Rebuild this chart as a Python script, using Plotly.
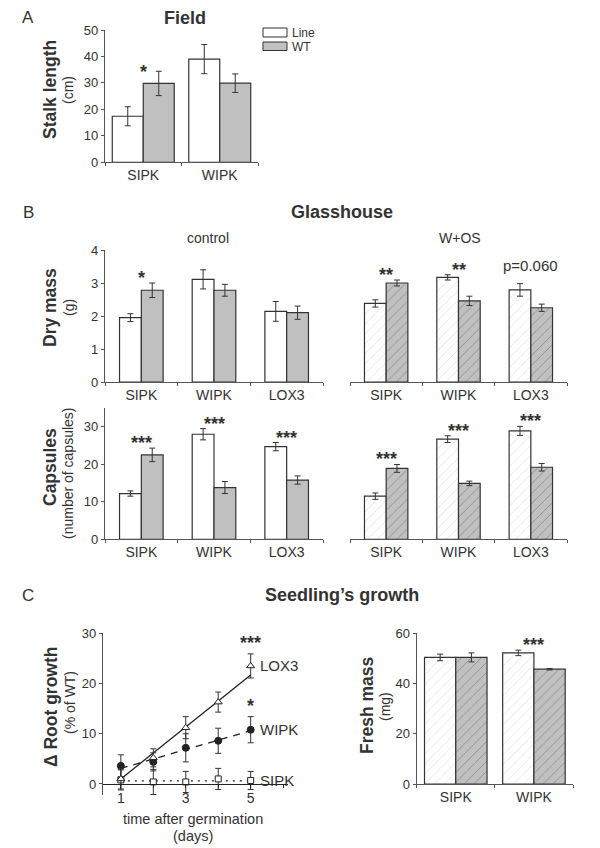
import plotly.graph_objects as go

# ---------------- data ----------------
field_genes = ["SIPK", "WIPK"]
field_line = [17.4, 39.0]
field_line_err = [3.6, 5.5]
field_wt = [29.8, 29.9]
field_wt_err = [4.6, 3.5]
field_sig = ["*", ""]

gh_genes = ["SIPK", "WIPK", "LOX3"]
dry_ctrl_line = [1.95, 3.11, 2.14]
dry_ctrl_line_err = [0.12, 0.29, 0.30]
dry_ctrl_wt = [2.78, 2.78, 2.10]
dry_ctrl_wt_err = [0.22, 0.18, 0.20]
dry_ctrl_sig = ["*", "", ""]

dry_wos_line = [2.38, 3.17, 2.79]
dry_wos_line_err = [0.11, 0.08, 0.19]
dry_wos_wt = [3.00, 2.46, 2.25]
dry_wos_wt_err = [0.09, 0.14, 0.11]
dry_wos_sig = ["**", "**", "p=0.060"]

caps_ctrl_line = [12.2, 28.0, 24.7]
caps_ctrl_line_err = [0.7, 1.5, 1.1]
caps_ctrl_wt = [22.5, 13.8, 15.8]
caps_ctrl_wt_err = [1.8, 1.6, 1.1]
caps_ctrl_sig = ["***", "***", "***"]

caps_wos_line = [11.5, 26.7, 28.9]
caps_wos_line_err = [0.85, 0.9, 1.2]
caps_wos_wt = [18.9, 14.9, 19.2]
caps_wos_wt_err = [1.05, 0.6, 1.0]
caps_wos_sig = ["***", "***", "***"]

days = [1, 2, 3, 4, 5]
root_lox3 = [1.0, 5.2, 11.2, 16.3, 23.5]
root_lox3_err = [2.0, 1.8, 2.2, 2.0, 2.4]
root_wipk = [3.6, 4.4, 7.2, 8.6, 10.8]
root_wipk_err = [2.2, 1.8, 2.8, 2.5, 2.6]
root_sipk = [0.8, 0.4, 0.4, 1.0, 0.7]
root_sipk_err = [2.0, 2.5, 2.1, 2.1, 1.8]
fit_days = [1, 5]
root_lox3_fit = [1.0, 21.7]
root_wipk_fit = [3.1, 10.6]
root_sipk_fit = [0.6, 0.6]
root_sig = ["***", "*", ""]          # LOX3, WIPK, SIPK at day 5

fresh_genes = ["SIPK", "WIPK"]
fresh_line = [50.4, 52.2]
fresh_line_err = [1.3, 1.1]
fresh_wt = [50.4, 45.7]
fresh_wt_err = [1.8, 0.3]
fresh_sig = ["", "***"]

# ---------------- styling ----------------
# The page body has an 8px margin, so the figure is 8px smaller and
# all page-pixel positions are converted with that offset.
OFF = 8
W, H = 600 - OFF, 848 - OFF
FONT = "Liberation Sans, Arial, sans-serif"
TXT = "#333333"
AX = "#555555"
EDGE = "#333333"
GRAY = "#c0c0c0"


def xp(px):
    return (px - OFF) / W


def yp(py):
    return 1 - (py - OFF) / H


fig = go.Figure()


def add_pair(genes, line, line_err, wt, wt_err, xa, ya, w, hatched):
    def marker(fill, fg):
        m = dict(color=fill, line=dict(color=EDGE, width=1.2))
        if hatched:
            m["pattern"] = dict(shape="/", fgcolor=fg, size=7, solidity=0.12,
                                fillmode="overlay")
        return m
    eb = dict(color=EDGE, thickness=1, width=3, type="data")
    fig.add_trace(go.Bar(x=genes, y=line, width=w, offset=-w,
                         marker=marker("white", "#c4c4c4"),
                         error_y=dict(array=line_err, **eb),
                         xaxis=xa, yaxis=ya, showlegend=False, name="Line"))
    fig.add_trace(go.Bar(x=genes, y=wt, width=w, offset=0,
                         marker=marker(GRAY, "#555555"),
                         error_y=dict(array=wt_err, **eb),
                         xaxis=xa, yaxis=ya, showlegend=False, name="WT"))


add_pair(field_genes, field_line, field_line_err, field_wt, field_wt_err, "x", "y", 0.405, False)
add_pair(gh_genes, dry_ctrl_line, dry_ctrl_line_err, dry_ctrl_wt, dry_ctrl_wt_err, "x2", "y2", 0.30, False)
add_pair(gh_genes, dry_wos_line, dry_wos_line_err, dry_wos_wt, dry_wos_wt_err, "x3", "y3", 0.30, True)
add_pair(gh_genes, caps_ctrl_line, caps_ctrl_line_err, caps_ctrl_wt, caps_ctrl_wt_err, "x4", "y4", 0.30, False)
add_pair(gh_genes, caps_wos_line, caps_wos_line_err, caps_wos_wt, caps_wos_wt_err, "x5", "y5", 0.30, True)
add_pair(fresh_genes, fresh_line, fresh_line_err, fresh_wt, fresh_wt_err, "x7", "y7", 0.40, True)

# root growth: fit lines
for fit, dash in [(root_lox3_fit, "solid"), (root_wipk_fit, "7px,6px"), (root_sipk_fit, "2px,5px")]:
    fig.add_trace(go.Scatter(x=fit_days, y=fit, mode="lines",
                             line=dict(color="#222222", width=1.3, dash=dash),
                             xaxis="x6", yaxis="y6", showlegend=False, hoverinfo="skip"))
eb6 = dict(type="data", color=EDGE, thickness=1, width=3)
for vals, err, sym, fill, size, name in [
        (root_sipk, root_sipk_err, "square", "white", 6, "SIPK"),
        (root_wipk, root_wipk_err, "circle", "#222222", 7, "WIPK"),
        (root_lox3, root_lox3_err, "triangle-up", "white", 7, "LOX3")]:
    fig.add_trace(go.Scatter(x=days, y=vals, mode="markers", name=name,
                             marker=dict(symbol=sym, size=size, color=fill,
                                         line=dict(color="#222222", width=1)),
                             error_y=dict(array=err, **eb6),
                             xaxis="x6", yaxis="y6", showlegend=False))

# ---------------- axes ----------------
tickfont = dict(family=FONT, size=13, color=TXT)
catfont = dict(family=FONT, size=14, color=TXT)


def cat_x(dom, rng):
    return dict(domain=dom, range=rng, showline=True, linecolor=AX, linewidth=1.2,
                ticks="outside", ticklen=3, tickcolor=AX, tickson="boundaries",
                tickfont=catfont, showgrid=False, zeroline=False, fixedrange=True,
                automargin=False)


def num_y(dom, rng, dtick, show=True):
    d = dict(domain=dom, range=rng, dtick=dtick, showgrid=False, zeroline=False,
             tickfont=tickfont, fixedrange=True, automargin=False)
    if show:
        d.update(showline=True, linecolor=AX, linewidth=1.2, ticks="outside",
                 ticklen=3, tickcolor=AX)
    else:
        d.update(showline=False, showticklabels=False, ticks="")
    return d


dA = [yp(162.3), yp(30)]
dDry = [yp(382), yp(250)]
dCap = [yp(539.3), yp(408)]

lay = dict(
    xaxis=dict(cat_x([xp(105), xp(258)], [-0.5, 1.5]), anchor="y"),
    yaxis=dict(num_y(dA, [0, 50], 10), anchor="x"),
    xaxis2=dict(cat_x([xp(105), xp(323)], [-0.5, 2.5]), anchor="y2"),
    yaxis2=dict(num_y(dDry, [0, 4], 1), anchor="x2"),
    xaxis3=dict(cat_x([xp(350), xp(567)], [-0.5, 2.5]), anchor="y3"),
    yaxis3=dict(num_y(dDry, [0, 4], 1, show=False), anchor="x3"),
    xaxis4=dict(cat_x([xp(105), xp(323)], [-0.5, 2.5]), anchor="y4"),
    yaxis4=dict(num_y(dCap, [0, 35], 10), anchor="x4"),
    xaxis5=dict(cat_x([xp(350), xp(567)], [-0.5, 2.5]), anchor="y5"),
    yaxis5=dict(num_y(dCap, [0, 35], 10, show=False), anchor="x5"),
    xaxis6=dict(domain=[xp(103), xp(288)], range=[0.45, 6.15], anchor="free",
                position=yp(784), showline=True, linecolor="#222222", linewidth=1.2,
                ticks="outside", ticklen=3, tickcolor="#222222",
                tickvals=[1, 2, 3, 4, 5, 6], ticktext=["1", "", "3", "", "5", ""],
                ticklabelstandoff=-2,
                tickfont=dict(family=FONT, size=14, color=TXT), showgrid=False,
                zeroline=False, fixedrange=True, automargin=False),
    yaxis6=dict(num_y([yp(795), yp(633.3)], [-2.2, 30], 10), anchor="x6"),
    xaxis7=dict(cat_x([xp(416.7), xp(573)], [-0.5, 1.5]), anchor="y7"),
    yaxis7=dict(num_y([yp(784), yp(633.3)], [0, 60], 20), anchor="x7"),
)
lay["yaxis6"]["tickvals"] = [0, 10, 20, 30]

annotations = []


def txt(x, y, s, size=13, bold=False, xanchor="center", angle=0, color=TXT):
    annotations.append(dict(x=xp(x), y=yp(y), xref="paper", yref="paper",
                            text=f"<b>{s}</b>" if bold else s, showarrow=False,
                            xanchor=xanchor, yanchor="middle", textangle=angle,
                            font=dict(family=FONT, size=size, color=color)))


# panel letters and titles
txt(28, 18, "A", 17)
txt(185, 18, "Field", 18, bold=True)
txt(28, 212, "B", 17)
txt(342, 212, "Glasshouse", 18, bold=True)
txt(208, 238, "control", 14)
txt(460, 238, "W+OS", 14)
txt(28, 595, "C", 17)
txt(342, 595, "Seedling’s growth", 18, bold=True)

# y titles
txt(50, 90, "Stalk length", 17.5, bold=True, angle=-90)
txt(68, 90, "(cm)", 14, angle=-90)
txt(50, 308, "Dry mass", 17.5, bold=True, angle=-90)
txt(69, 308, "(g)", 14, angle=-90)
txt(50, 467, "Capsules", 17.5, bold=True, angle=-90)
txt(68, 473, "(number of capsules)", 14, angle=-90)
txt(51, 707, "Δ Root growth", 17.5, bold=True, angle=-90)
txt(70, 703, "(% of WT)", 14, angle=-90)
txt(367, 705, "Fresh mass", 17.5, bold=True, angle=-90)
txt(385, 707, "(mg)", 14, angle=-90)

# x title of root plot
txt(193, 819, "time after germination", 14.5)
txt(193, 836, "(days)", 14.5)

# legend (panel A)
shapes = [
    dict(type="rect", xref="paper", yref="paper", x0=xp(263), x1=xp(287),
         y0=yp(37), y1=yp(28), fillcolor="white", line=dict(color=EDGE, width=1)),
    dict(type="rect", xref="paper", yref="paper", x0=xp(263), x1=xp(287),
         y0=yp(50.5), y1=yp(42), fillcolor=GRAY, line=dict(color=EDGE, width=1)),
]
txt(290, 33, "Line", 12, xanchor="left")
txt(290, 47, "WT", 12, xanchor="left")


# significance marks, placed from data
def sig_marks(sigs, line, line_err, wt, wt_err, xa, ya, shift=10):
    for i, s in enumerate(sigs):
        if not s:
            continue
        top = max(line[i] + line_err[i], wt[i] + wt_err[i])
        is_p = s.startswith("p")
        annotations.append(dict(
            x=i, y=top, xref=xa, yref=ya, text=s if is_p else f"<b>{s}</b>",
            showarrow=False, xanchor="center", yanchor="middle",
            yshift=(shift + 8) if is_p else shift - 5,
            font=dict(family=FONT, size=15 if is_p else 18, color=TXT)))


sig_marks(field_sig, field_line, field_line_err, field_wt, field_wt_err, "x", "y", shift=4)
sig_marks(dry_ctrl_sig, dry_ctrl_line, dry_ctrl_line_err, dry_ctrl_wt, dry_ctrl_wt_err, "x2", "y2")
sig_marks(dry_wos_sig, dry_wos_line, dry_wos_line_err, dry_wos_wt, dry_wos_wt_err, "x3", "y3")
sig_marks(caps_ctrl_sig, caps_ctrl_line, caps_ctrl_line_err, caps_ctrl_wt, caps_ctrl_wt_err, "x4", "y4")
sig_marks(caps_wos_sig, caps_wos_line, caps_wos_line_err, caps_wos_wt, caps_wos_wt_err, "x5", "y5")
sig_marks(fresh_sig, fresh_line, fresh_line_err, fresh_wt, fresh_wt_err, "x7", "y7")

# root growth labels and stars
for name, vals, err, s in [("LOX3", root_lox3, root_lox3_err, root_sig[0]),
                           ("WIPK", root_wipk, root_wipk_err, root_sig[1]),
                           ("SIPK", root_sipk, root_sipk_err, root_sig[2])]:
    annotations.append(dict(x=days[-1], y=vals[-1], xref="x6", yref="y6", text=name,
                            showarrow=False, xanchor="left", yanchor="middle", xshift=7,
                            font=dict(family=FONT, size=15, color=TXT)))
    if s:
        annotations.append(dict(x=days[-1], y=vals[-1] + err[-1], xref="x6", yref="y6",
                                text=f"<b>{s}</b>", showarrow=False, xanchor="center",
                                yanchor="middle", yshift=11,
                                font=dict(family=FONT, size=18, color=TXT)))

fig.update_layout(
    template="none",
    width=W, height=H, margin=dict(l=0, r=0, t=0, b=0, pad=0), autosize=False,
    paper_bgcolor="white", plot_bgcolor="white",
    barmode="overlay", showlegend=False,
    font=dict(family=FONT, color=TXT),
    annotations=annotations, shapes=shapes, **lay)

fig.write_html("out.html")
